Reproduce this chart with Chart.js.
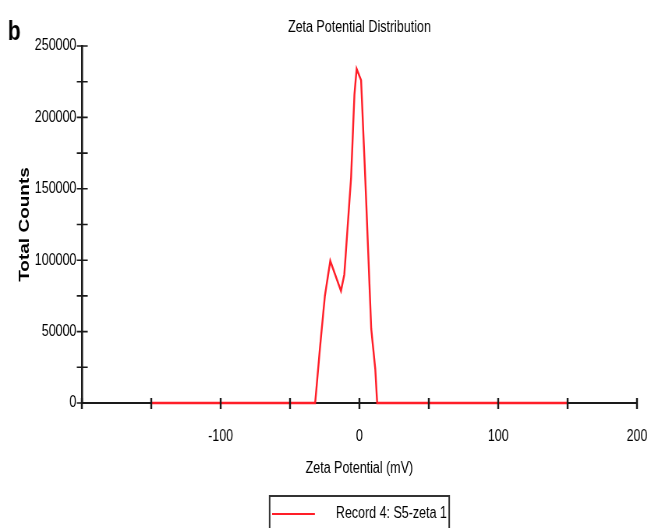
<!DOCTYPE html>
<html>
<head>
<meta charset="utf-8">
<script src="https://cdn.jsdelivr.net/npm/chart.js@4.4.0/dist/chart.umd.min.js"></script>
<style>
  html, body { margin: 0; padding: 0; background: #fff; }
  #zeta { display: block; }
</style>
</head>
<body>
<!-- drawn on a wider bitmap, shown squeezed to 651px -->
<canvas id="zeta" width="835" height="528" style="width:651px;height:528px"></canvas>
<script>
// zeta potential distribution, record 4
const zetaMv = [-150, -31.9, -28.3, -24.9, -21.0, -13.3, -10.9, -6.0, -3.6, -2.0, 1.2, 4.3, 8.5, 11.4, 12.8, 150];
const totalCounts = [0, 0, 40000, 75000, 99500, 78500, 90000, 158000, 216000, 234000, 226000, 155000, 52000, 24000, 0, 0];
const xTickLabels = [-100, 0, 100, 200];
const yTickLabels = [0, 50000, 100000, 150000, 200000, 250000];
const seriesName = 'Record 4: S5-zeta 1';

const lineRed = '#ff1e28';
const font = "'Liberation Sans', Arial, sans-serif";

// legend swatch: a short red line with some blank room after it
const swatch = document.createElement('canvas');
swatch.width = 74;
swatch.height = 4;
const sctx = swatch.getContext('2d');
sctx.fillStyle = lineRed;
sctx.fillRect(0, 1, 55, 2);

// tick marks crossing the axis lines, panel letter, legend frame
const axisExtras = {
  id: 'axisExtras',
  afterDatasetsDraw(chart) {
    const {ctx, chartArea, scales: {x, y}} = chart;
    ctx.save();
    ctx.strokeStyle = '#1a1a1a';
    ctx.beginPath();
    ctx.lineWidth = 2.4;
    x.ticks.forEach(t => {
      const px = x.getPixelForValue(t.value);
      ctx.moveTo(px, chartArea.bottom - 5);
      ctx.lineTo(px, chartArea.bottom + 6);
    });
    ctx.stroke();
    ctx.beginPath();
    ctx.lineWidth = 1.6;
    y.ticks.forEach(t => {
      const py = y.getPixelForValue(t.value);
      ctx.moveTo(chartArea.left - 6.5, py);
      ctx.lineTo(chartArea.left + 7.5, py);
    });
    ctx.stroke();
    ctx.restore();
  },
  afterDraw(chart) {
    const {ctx, legend} = chart;
    ctx.save();
    ctx.fillStyle = '#000';
    ctx.font = 'bold 27px ' + font;
    ctx.fillText('b', 10, 33);
    const box = legend.legendHitBoxes[0];
    if (box) {
      const midY = box.top + box.height / 2;
      ctx.strokeStyle = '#333';
      ctx.lineWidth = 2;
      ctx.strokeRect(box.left - 3, midY - 18, box.width + 6, 40);
    }
    ctx.restore();
  }
};

new Chart(document.getElementById('zeta'), {
  type: 'scatter',
  data: {
    datasets: [{
      label: seriesName,
      data: zetaMv.map((v, i) => ({x: v, y: totalCounts[i]})),
      showLine: true,
      borderColor: lineRed,
      backgroundColor: lineRed,
      borderWidth: 2.4,
      pointRadius: 0,
      tension: 0,
      clip: false
    }]
  },
  options: {
    responsive: false,
    animation: false,
    layout: { padding: { top: 0, right: 18, bottom: -4, left: 0 } },
    plugins: {
      title: {
        display: true,
        text: 'Zeta Potential Distribution',
        fullSize: false,
        color: '#000',
        font: { family: font, size: 16, weight: 'normal' },
        padding: { top: 18.4, bottom: 8.4 }
      },
      legend: {
        position: 'bottom',
        fullSize: false,
        labels: {
          usePointStyle: true,
          pointStyle: swatch,
          pointStyleWidth: 74,
          color: '#000',
          font: { family: font, size: 16 },
          padding: 10
        }
      },
      tooltip: { enabled: false }
    },
    scales: {
      x: {
        type: 'linear',
        min: -200,
        max: 200,
        grid: { display: false, drawTicks: true, tickLength: 24 },
        border: { display: true, color: '#1a1a1a', width: 2 },
        ticks: {
          stepSize: 50,
          autoSkip: false,
          maxRotation: 0,
          padding: 0,
          color: '#000',
          font: { family: font, size: 16 },
          callback: v => xTickLabels.includes(v) ? String(v) : ''
        },
        title: {
          display: true,
          text: 'Zeta Potential (mV)',
          color: '#000',
          font: { family: font, size: 16 },
          padding: { top: 0, bottom: 18 }
        },
        afterFit: s => { s.height = 93; }
      },
      y: {
        type: 'linear',
        min: 0,
        max: 250000,
        grid: { display: false, drawTicks: false },
        border: { display: true, color: '#1a1a1a', width: 2.5 },
        ticks: {
          stepSize: 25000,
          autoSkip: false,
          padding: 7,
          color: '#000',
          font: { family: font, size: 16 },
          callback: v => yTickLabels.includes(v) ? String(v) : ''
        },
        title: {
          display: true,
          text: 'Total Counts',
          color: '#000',
          font: { family: font, size: 19, weight: 'bold' },
          padding: { top: 20, bottom: 0 }
        },
        afterFit: s => { s.width = 105; }
      }
    }
  },
  plugins: [axisExtras]
});
</script>
</body>
</html>
